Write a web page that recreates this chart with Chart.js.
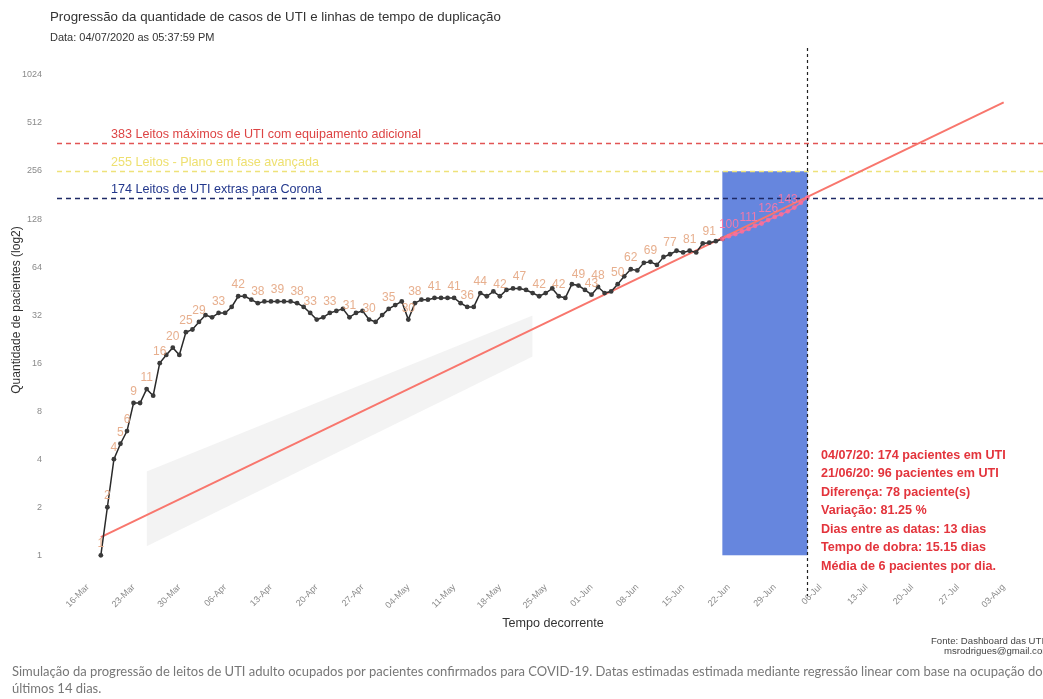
<!DOCTYPE html>
<html>
<head>
<meta charset="utf-8">
<script src="https://cdn.jsdelivr.net/npm/chart.js@4.4.0/dist/chart.umd.min.js"></script>
<style>
  html, body { margin: 0; padding: 0; background: #fff; }
  #wrap { width: 1043px; height: 699px; }
</style>
</head>
<body>
<div id="wrap"><canvas id="grafico" width="1043" height="699"></canvas></div>
<script>
'use strict';

// ─── Dados (dia 0 = 18-Mar) ───────────────────────────────────────────────────

const uti = [
  1, 2, 4, 5, 6, 9, 9, 11, 10, 16,
  18, 20, 18, 25, 26, 29, 32, 31, 33, 33,
  36, 42, 42, 40, 38, 39, 39, 39, 39, 39,
  38, 36, 33, 30, 31, 33, 34, 35, 31, 33,
  34, 30, 29, 32, 35, 37, 39, 30, 38, 40,
  40, 41, 41, 41, 41, 38, 36, 36, 44, 42,
  45, 42, 46, 47, 47, 46, 44, 42, 44, 47,
  42, 41, 50, 49, 46, 43, 48, 44, 45, 50,
  56, 62, 61, 68, 69, 66, 74, 77, 81, 79,
  81, 79, 90, 91, 93, 96, 100, 103, 107, 111,
  116, 120, 126, 132, 137, 143, 151, 162, 174
];

// dias com rotulo de valor
const labelDays = [0, 1, 2, 3, 4, 5, 7, 9, 11, 13, 15, 18, 21, 24, 27, 30, 32, 35, 38,
  41, 44, 47, 48, 51, 54, 56, 58, 61, 64, 67, 70, 73, 75, 76, 79, 81, 84, 87, 90, 93,
  96, 99, 102, 105];

const inicioJanela = 95;   // 21/06
const fimJanela = 108;     // 04/07

// regressao linear (log2) dos ultimos 14 dias
const trendDays = [0, 138];
const trendValues = [1.3, 690];

// faixa cinza
const bandDays = [7, 66];
const bandTop = [3.35, 31.8];
const bandLow = [1.14, 17.6];

const xTickDays = [-2, 5, 12, 19, 26, 33, 40, 47, 54, 61, 68, 75, 82, 89, 96, 103, 110, 117, 124, 131, 138];
const xTickLabels = ['16-Mar', '23-Mar', '30-Mar', '06-Apr', '13-Apr', '20-Apr', '27-Apr',
  '04-May', '11-May', '18-May', '25-May', '01-Jun', '08-Jun', '15-Jun', '22-Jun',
  '29-Jun', '06-Jul', '13-Jul', '20-Jul', '27-Jul', '03-Aug'];
const yTicks = [1, 2, 4, 8, 16, 32, 64, 128, 256, 512, 1024];

const limites = [
  { valor: 383, texto: '383 Leitos máximos de UTI com equipamento adicional', cor: '#e25454', corTexto: '#dd4444' },
  { valor: 255, texto: '255 Leitos - Plano em fase avançada', cor: '#eee27a', corTexto: '#eee070' },
  { valor: 174, texto: '174 Leitos de UTI extras para Corona', cor: '#1e2a66', corTexto: '#22378c' },
];

const resumo = [
  '04/07/20: 174 pacientes em UTI',
  '21/06/20: 96 pacientes em UTI',
  'Diferença: 78 paciente(s)',
  'Variação: 81.25 %',
  'Dias entre as datas: 13 dias',
  'Tempo de dobra: 15.15 dias',
  'Média de 6 pacientes por dia.',
];

const FONTE = '"Liberation Sans", Arial, sans-serif';

// ─── Helpers ─────────────────────────────────────────────────────────────────

function pontos(dias, valores) {
  return dias.map(function(d, i) { return { x: d, y: valores[i] }; });
}

const obs = [];
const recentes = [];
uti.forEach(function(v, d) {
  if (d <= inicioJanela) obs.push({ x: d, y: v });
  if (d >= inicioJanela) recentes.push({ x: d, y: v });
});

// ─── Plugin: retangulo, linhas tracejadas e textos ───────────────────────────

const anotacoes = {
  id: 'anotacoes',
  beforeDatasetsDraw(chart) {
    const ctx = chart.ctx;
    const xs = chart.scales.x, ys = chart.scales.y;
    const area = chart.chartArea;
    ctx.save();
    // janela azul
    const x0 = xs.getPixelForValue(inicioJanela), x1 = xs.getPixelForValue(fimJanela);
    const y0 = ys.getPixelForValue(255), y1 = ys.getPixelForValue(1);
    ctx.fillStyle = '#6686de';
    ctx.fillRect(x0, y0, x1 - x0, y1 - y0);

    // limites de leitos
    ctx.lineWidth = 1.3;
    ctx.setLineDash([5, 4]);
    limites.forEach(function(l) {
      const y = Math.round(ys.getPixelForValue(l.valor)) + 0.5;
      ctx.strokeStyle = l.cor;
      ctx.beginPath();
      ctx.moveTo(area.left, y);
      ctx.lineTo(chart.width, y);
      ctx.stroke();
    });
    ctx.setLineDash([]);
    ctx.font = '12.6px ' + FONTE;
    ctx.textBaseline = 'alphabetic';
    limites.forEach(function(l) {
      const y = ys.getPixelForValue(l.valor);
      ctx.fillStyle = l.corTexto;
      ctx.fillText(l.texto, 111, y - 5);
    });
    ctx.restore();
  },
  afterDatasetsDraw(chart) {
    const ctx = chart.ctx;
    const xs = chart.scales.x, ys = chart.scales.y;
    const area = chart.chartArea;
    ctx.save();
    // rotulos de valor
    ctx.font = '12px ' + FONTE;
    ctx.textAlign = 'center';
    ctx.textBaseline = 'alphabetic';
    labelDays.forEach(function(d) {
      const x = xs.getPixelForValue(d);
      const y = ys.getPixelForValue(uti[d]);
      ctx.fillStyle = d >= inicioJanela ? 'rgba(255,120,165,0.9)' : 'rgba(228,166,130,0.9)';
      ctx.fillText(String(uti[d]), x, y - 8);
    });

    // linha vertical da data atual
    const xv = Math.round(xs.getPixelForValue(fimJanela)) + 0.5;
    ctx.strokeStyle = '#222';
    ctx.lineWidth = 1.2;
    ctx.setLineDash([3, 3]);
    ctx.beginPath();
    ctx.moveTo(xv, area.top - 12);
    ctx.lineTo(xv, area.bottom + 16);
    ctx.stroke();
    ctx.setLineDash([]);

    // resumo
    ctx.textAlign = 'left';
    ctx.font = 'bold 12.6px ' + FONTE;
    ctx.fillStyle = '#e3343c';
    resumo.forEach(function(t, i) {
      ctx.fillText(t, 821, 458.5 + i * 18.5);
    });
    ctx.restore();
  },
  afterDraw(chart) {
    const ctx = chart.ctx;
    ctx.save();
    ctx.fillStyle = '#333';
    ctx.font = '13.3px ' + FONTE;
    ctx.fillText('Progressão da quantidade de casos de UTI e linhas de tempo de duplicação', 50, 21);
    ctx.font = '11px ' + FONTE;
    ctx.fillText('Data: 04/07/2020 as 05:37:59 PM', 50, 41);

    ctx.font = '12.6px ' + FONTE;
    ctx.textAlign = 'center';
    ctx.fillText('Tempo decorrente', 553, 627);
    ctx.save();
    ctx.translate(20, 310);
    ctx.rotate(-Math.PI / 2);
    ctx.font = '12px ' + FONTE;
    ctx.fillText('Quantidade de pacientes (log2)', 0, 0);
    ctx.restore();

    ctx.textAlign = 'left';
    ctx.font = '9.6px ' + FONTE;
    ctx.fillStyle = '#444';
    ctx.fillText('Fonte: Dashboard das UTIs', 931, 644);
    ctx.fillText('msrodrigues@gmail.com', 944, 654);

    ctx.font = '13px Lato, sans-serif';
    ctx.fillStyle = '#777';
    ctx.fillText('Simulação da progressão de leitos de UTI adulto ocupados por pacientes confirmados para COVID-19. Datas estimadas estimada mediante regressão linear com base na ocupação dos', 12, 676);
    ctx.fillText('últimos 14 dias.', 12, 693);
    ctx.restore();
  }
};

// ─── Grafico ─────────────────────────────────────────────────────────────────

new Chart(document.getElementById('grafico').getContext('2d'), {
  type: 'line',
  data: {
    datasets: [
      {
        label: 'faixa inferior',
        data: pontos(bandDays, bandLow),
        borderWidth: 0,
        pointRadius: 0,
        fill: false,
        order: 5,
      },
      {
        label: 'faixa superior',
        data: pontos(bandDays, bandTop),
        borderWidth: 0,
        pointRadius: 0,
        backgroundColor: 'rgba(195,195,195,0.2)',
        fill: '-1',
        order: 4,
      },
      {
        label: 'Regressão',
        data: pontos(trendDays, trendValues),
        borderColor: '#f8766d',
        borderWidth: 2,
        pointRadius: 0,
        order: 2,
      },
      {
        label: 'Pacientes',
        data: obs,
        borderColor: '#2a2a2a',
        backgroundColor: '#3a3a3a',
        borderWidth: 1.5,
        pointRadius: 2.4,
        pointBorderWidth: 0,
        order: 1,
      },
      {
        label: 'Ultimos 14 dias',
        data: recentes,
        borderColor: 'rgba(255,110,150,0.85)',
        backgroundColor: 'rgba(255,110,150,0.85)',
        borderWidth: 1.5,
        pointRadius: 2.4,
        pointBorderWidth: 0,
        order: 0,
      },
    ],
  },
  options: {
    responsive: false,
    animation: false,
    devicePixelRatio: 1,
    layout: { padding: { top: 60, left: 0, right: 0, bottom: 79 } },
    plugins: { legend: { display: false }, tooltip: { enabled: false } },
    scales: {
      x: {
        type: 'linear',
        min: -6.7,
        max: 143.4,
        grid: { display: false, drawTicks: false },
        border: { display: false },
        afterBuildTicks: function(scale) {
          scale.ticks = xTickDays.map(function(d) { return { value: d }; });
        },
        afterFit: function(scale) {
          scale.height = 40;
          scale.paddingLeft = 0;
          scale.paddingRight = 0;
        },
        ticks: {
          autoSkip: false,
          minRotation: 45,
          maxRotation: 45,
          padding: 2,
          color: '#8a8a8a',
          font: { family: FONTE, size: 9 },
          callback: function(v, i) { return xTickLabels[i]; },
        },
      },
      y: {
        type: 'logarithmic',
        min: 0.708,
        max: 1270,
        grid: { display: false, drawTicks: false },
        border: { display: false },
        afterBuildTicks: function(scale) {
          scale.ticks = yTicks.map(function(v) { return { value: v }; });
        },
        afterFit: function(scale) {
          scale.width = 57;
        },
        ticks: {
          padding: 15,
          color: '#8a8a8a',
          font: { family: FONTE, size: 9 },
          callback: function(v) { return String(v); },
        },
      },
    },
  },
  plugins: [anotacoes],
});
</script>
</body>
</html>
